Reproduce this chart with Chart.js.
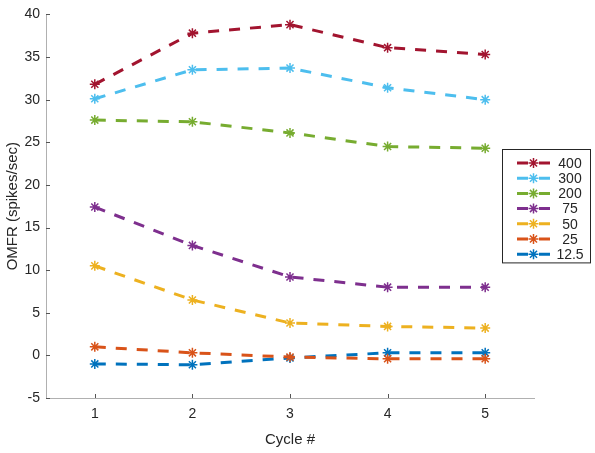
<!DOCTYPE html>
<html>
<head>
<meta charset="utf-8">
<script src="https://cdn.jsdelivr.net/npm/chart.js@4/dist/chart.umd.min.js"></script>
<style>
  html, body { margin: 0; padding: 0; background: #fff; }
  canvas { display: block; }
</style>
</head>
<body>
<canvas id="chart" width="595" height="453"></canvas>
<script>
const cycles = [1, 2, 3, 4, 5];
const seriesLabels = ["400", "300", "200", "75", "50", "25", "12.5"];
const s400 = [31.8, 37.8, 38.8, 36.1, 35.3];
const s300 = [30.1, 33.5, 33.7, 31.4, 30.0];
const s200 = [27.6, 27.4, 26.1, 24.5, 24.3];
const s75 = [17.4, 12.9, 9.2, 8.0, 8.0];
const s50 = [10.5, 6.5, 3.8, 3.4, 3.2];
const s25 = [1.0, 0.3, -0.2, -0.4, -0.4];
const s12 = [-1.0, -1.1, -0.3, 0.3, 0.3];
const yTicks = [-5, 0, 5, 10, 15, 20, 25, 30, 35, 40];

const seriesValues = [s400, s300, s200, s75, s50, s25, s12];
const colors = ["#A2142F", "#4DBEEE", "#77AC30", "#7E2F8E", "#EDB120", "#D95319", "#0072BD"];
const dash = [11, 10];
const textColor = "#262626";
const axisColor = "#b0b0b0";
const font = "'Liberation Sans', Arial, sans-serif";

const datasets = seriesLabels.map((label, i) => ({
  label,
  data: cycles.map((c, j) => ({ x: c, y: seriesValues[i][j] })),
  borderColor: colors[i],
  backgroundColor: colors[i],
  borderWidth: 3,
  borderDash: dash,
  pointStyle: "star",
  pointRadius: 5,
  pointBorderWidth: 1.5,
  pointBorderColor: colors[i],
  tension: 0,
  fill: false
}));

function asterisk(ctx, x, y, r) {
  ctx.beginPath();
  for (let k = 0; k < 4; k++) {
    const a = k * Math.PI / 4;
    ctx.moveTo(x - r * Math.cos(a), y - r * Math.sin(a));
    ctx.lineTo(x + r * Math.cos(a), y + r * Math.sin(a));
  }
  ctx.stroke();
}

// inward tick marks, MATLAB style
const innerTicks = {
  id: "innerTicks",
  afterDraw(chart) {
    const { ctx, chartArea: a, scales: { x, y } } = chart;
    ctx.save();
    ctx.strokeStyle = "#555";
    ctx.lineWidth = 1;
    ctx.beginPath();
    yTicks.forEach((v) => {
      const py = Math.round(y.getPixelForValue(v)) + 0.5;
      ctx.moveTo(a.left, py);
      ctx.lineTo(a.left + 4, py);
    });
    cycles.forEach((v) => {
      const px = Math.round(x.getPixelForValue(v)) + 0.5;
      ctx.moveTo(px, a.bottom);
      ctx.lineTo(px, a.bottom - 4);
    });
    ctx.stroke();
    ctx.restore();
  }
};

// boxed legend drawn over the plot
const boxLegend = {
  id: "boxLegend",
  afterDraw(chart) {
    const { ctx } = chart;
    const left = 502, top = 149, width = 88, rowH = 15.2;
    const height = rowH * seriesLabels.length + 7;
    ctx.save();
    ctx.fillStyle = "#fff";
    ctx.fillRect(left, top, width, height);
    ctx.strokeStyle = "#262626";
    ctx.lineWidth = 1;
    ctx.strokeRect(left + 0.5, top + 0.5, width, height);
    seriesLabels.forEach((label, i) => {
      const cy = top + 14 + i * rowH;
      ctx.strokeStyle = colors[i];
      ctx.lineWidth = 3;
      ctx.beginPath();
      ctx.moveTo(left + 15, cy);
      ctx.lineTo(left + 26, cy);
      ctx.moveTo(left + 37, cy);
      ctx.lineTo(left + 48, cy);
      ctx.stroke();
      ctx.lineWidth = 1.5;
      asterisk(ctx, left + 31.5, cy, 5);
      ctx.fillStyle = textColor;
      ctx.font = "14px " + font;
      ctx.textAlign = "center";
      ctx.textBaseline = "middle";
      ctx.fillText(label, left + 68, cy + 1);
    });
    ctx.restore();
  }
};

new Chart(document.getElementById("chart"), {
  type: "line",
  data: { datasets },
  plugins: [innerTicks, boxLegend],
  options: {
    responsive: false,
    animation: false,
    layout: { padding: { top: 14, right: 61, left: 0, bottom: 0 } },
    plugins: { legend: { display: false }, tooltip: { enabled: false } },
    scales: {
      x: {
        type: "linear",
        min: 0.5,
        max: 5.5,
        afterBuildTicks: (s) => { s.ticks = cycles.map((v) => ({ value: v })); },
        afterFit: (s) => { s.height = 55; },
        grid: { display: false, drawTicks: false },
        border: { display: true, color: axisColor, width: 1 },
        ticks: { color: textColor, font: { family: font, size: 14 }, padding: 8 },
        title: { display: true, text: "Cycle #", color: textColor, font: { family: font, size: 15 }, padding: { top: 4 } }
      },
      y: {
        min: -5,
        max: 40,
        afterBuildTicks: (s) => { s.ticks = yTicks.map((v) => ({ value: v })); },
        afterFit: (s) => { s.width = 46; },
        grid: { display: false, drawTicks: false },
        border: { display: true, color: axisColor, width: 1 },
        ticks: { color: textColor, font: { family: font, size: 14 }, padding: 6 },
        title: { display: true, text: "OMFR (spikes/sec)", color: textColor, font: { family: font, size: 15 }, padding: { bottom: 2 } }
      }
    }
  }
});
</script>
</body>
</html>
